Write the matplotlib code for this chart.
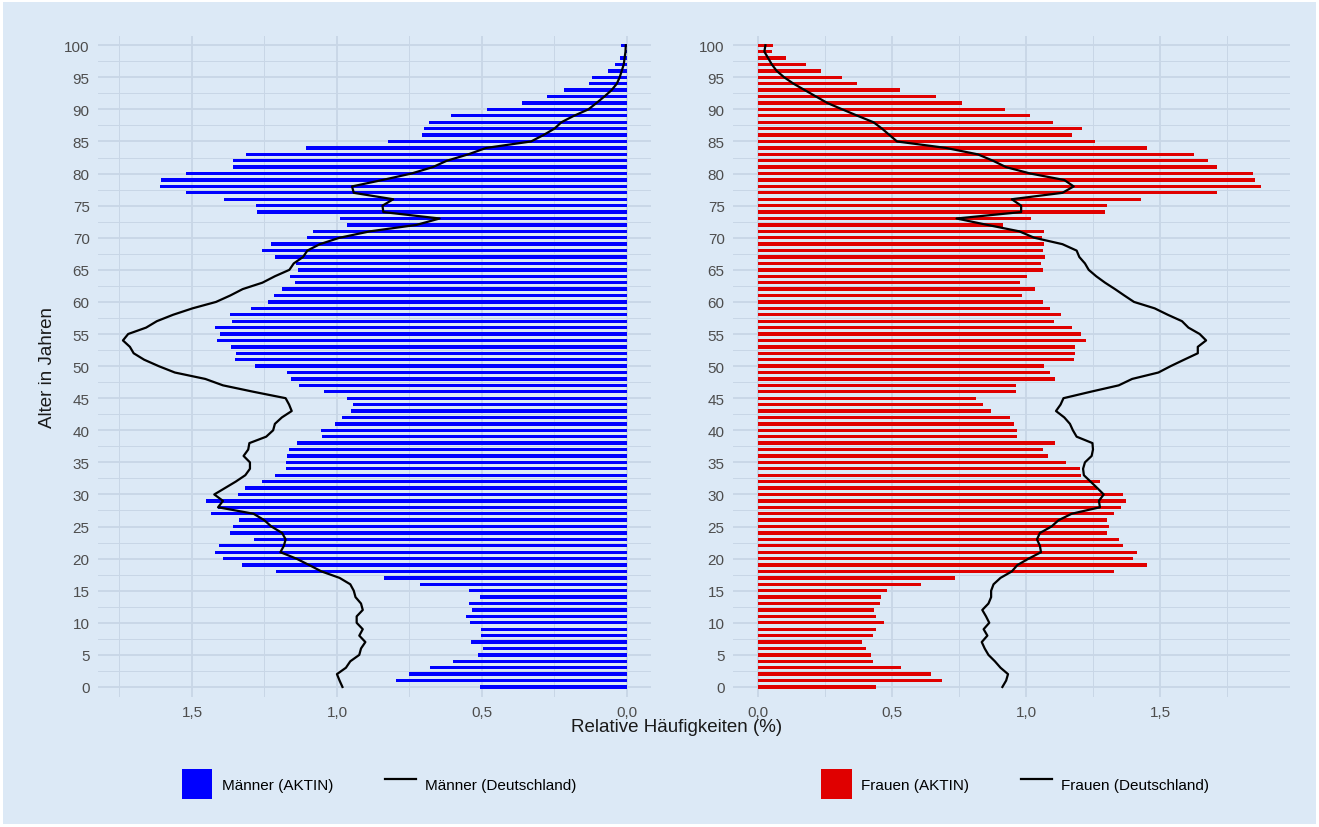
import numpy as np
import matplotlib
matplotlib.use("Agg")
import matplotlib.pyplot as plt
from matplotlib.patches import Patch
from matplotlib.lines import Line2D

plt.rcParams['font.family'] = ['Liberation Sans', 'DejaVu Sans']

ages = list(range(0, 101))

# relative frequencies (%) by age 0..100
maenner_aktin = [
    0.506, 0.798, 0.752, 0.680, 0.599, 0.514, 0.498, 0.537, 0.502, 0.502,
    0.540, 0.556, 0.535, 0.543, 0.506, 0.546, 0.715, 0.838, 1.210, 1.328,
    1.393, 1.422, 1.406, 1.286, 1.368, 1.360, 1.337, 1.436, 1.410, 1.451,
    1.340, 1.316, 1.260, 1.215, 1.177, 1.175, 1.172, 1.165, 1.138, 1.051,
    1.054, 1.007, 0.984, 0.953, 0.944, 0.964, 1.044, 1.130, 1.157, 1.173,
    1.284, 1.353, 1.347, 1.364, 1.415, 1.404, 1.422, 1.362, 1.368, 1.296,
    1.238, 1.216, 1.189, 1.143, 1.163, 1.136, 1.140, 1.212, 1.258, 1.226,
    1.102, 1.084, 0.967, 0.988, 1.275, 1.278, 1.390, 1.520, 1.609, 1.607,
    1.520, 1.360, 1.360, 1.315, 1.107, 0.823, 0.705, 0.699, 0.683, 0.605,
    0.484, 0.362, 0.277, 0.217, 0.131, 0.121, 0.065, 0.041, 0.025, 0.008,
    0.020]

maenner_de = [
    0.981, 0.991, 1.000, 0.969, 0.954, 0.923, 0.917, 0.902, 0.923, 0.911,
    0.932, 0.932, 0.911, 0.917, 0.936, 0.942, 0.954, 0.991, 1.053, 1.096,
    1.140, 1.195, 1.183, 1.177, 1.189, 1.226, 1.251, 1.288, 1.410, 1.393,
    1.423, 1.386, 1.349, 1.316, 1.300, 1.300, 1.322, 1.306, 1.302, 1.244,
    1.220, 1.214, 1.190, 1.156, 1.165, 1.177, 1.288, 1.393, 1.454, 1.559,
    1.615, 1.665, 1.701, 1.714, 1.738, 1.720, 1.658, 1.621, 1.565, 1.498,
    1.417, 1.368, 1.325, 1.257, 1.214, 1.164, 1.149, 1.117, 1.102, 1.059,
    0.991, 0.886, 0.726, 0.646, 0.840, 0.843, 0.806, 0.942, 0.948, 0.843,
    0.744, 0.670, 0.621, 0.547, 0.485, 0.331, 0.288, 0.250, 0.226, 0.183,
    0.133, 0.105, 0.078, 0.053, 0.035, 0.025, 0.018, 0.011, 0.008, 0.005,
    0.004]

frauen_aktin = [
    0.439, 0.686, 0.647, 0.534, 0.428, 0.422, 0.403, 0.388, 0.431, 0.442,
    0.471, 0.440, 0.433, 0.456, 0.460, 0.481, 0.607, 0.736, 1.327, 1.450,
    1.398, 1.415, 1.363, 1.348, 1.304, 1.311, 1.302, 1.327, 1.354, 1.374,
    1.362, 1.265, 1.275, 1.205, 1.200, 1.150, 1.083, 1.062, 1.109, 0.966,
    0.966, 0.955, 0.941, 0.871, 0.840, 0.812, 0.962, 0.961, 1.109, 1.091,
    1.067, 1.181, 1.182, 1.184, 1.223, 1.206, 1.173, 1.104, 1.130, 1.090,
    1.062, 0.985, 1.035, 0.976, 1.003, 1.062, 1.057, 1.070, 1.063, 1.069,
    1.060, 1.066, 0.916, 1.020, 1.293, 1.302, 1.429, 1.711, 1.878, 1.853,
    1.846, 1.711, 1.679, 1.628, 1.450, 1.259, 1.171, 1.209, 1.100, 1.015,
    0.920, 0.760, 0.663, 0.530, 0.370, 0.313, 0.236, 0.178, 0.105, 0.052,
    0.056]

frauen_de = [
    0.912, 0.926, 0.933, 0.905, 0.884, 0.860, 0.846, 0.835, 0.856, 0.842,
    0.863, 0.851, 0.837, 0.860, 0.870, 0.870, 0.879, 0.905, 0.947, 0.968,
    1.010, 1.056, 1.052, 1.041, 1.052, 1.095, 1.122, 1.171, 1.276, 1.272,
    1.290, 1.266, 1.241, 1.216, 1.213, 1.220, 1.245, 1.250, 1.248, 1.189,
    1.175, 1.164, 1.143, 1.112, 1.129, 1.140, 1.241, 1.346, 1.396, 1.494,
    1.540, 1.590, 1.641, 1.641, 1.672, 1.648, 1.606, 1.582, 1.529, 1.480,
    1.403, 1.367, 1.332, 1.295, 1.262, 1.234, 1.220, 1.199, 1.189, 1.136,
    1.031, 0.975, 0.856, 0.741, 0.982, 0.982, 0.947, 1.136, 1.178, 1.143,
    1.017, 0.926, 0.877, 0.820, 0.701, 0.519, 0.491, 0.463, 0.431, 0.372,
    0.315, 0.259, 0.217, 0.175, 0.133, 0.098, 0.070, 0.052, 0.038, 0.024,
    0.028]

x_ticks = [0.0, 0.5, 1.0, 1.5]
x_ticklabels = ["0,0", "0,5", "1,0", "1,5"]
y_ticks = list(range(0, 101, 5))

bg = "#dce9f6"
grid_col = "#c8d6e6"
blue = "#0000ff"
red = "#e00000"

fig = plt.figure(figsize=(13.19, 8.28), dpi=100)
fig.patch.set_facecolor(bg)
fig.patch.set_edgecolor("white")
fig.patch.set_linewidth(4)

ax1 = fig.add_axes([98 / 1319, 1 - 697.6 / 828, 553 / 1319, 661 / 828])
ax2 = fig.add_axes([733 / 1319, 1 - 697.6 / 828, 557 / 1319, 661 / 828])


def style(ax):
    ax.set_facecolor(bg)
    for s in ax.spines.values():
        s.set_visible(False)
    ax.set_yticks(y_ticks)
    ax.set_yticks(np.arange(2.5, 100, 5), minor=True)
    ax.set_xticks(x_ticks)
    ax.set_xticks([0.25, 0.75, 1.25, 1.75], minor=True)
    ax.set_xticklabels(x_ticklabels)
    ax.grid(True, which="major", color=grid_col, linewidth=1.3)
    ax.grid(True, which="minor", color=grid_col, linewidth=0.7)
    ax.set_axisbelow(True)
    ax.tick_params(which="both", length=0, labelsize=11, labelcolor="#4d4d4d", pad=6)
    ax.set_ylim(-1.5, 101.5)


style(ax1)
style(ax2)

ax1.barh(ages, maenner_aktin, height=0.52, color=blue)
ax1.plot(maenner_de, ages, color="black", linewidth=1.6)
ax1.set_xlim(1.824, -0.083)
ax1.set_ylabel("Alter in Jahren", fontsize=13.5, color="#1a1a1a", labelpad=6)

ax2.barh(ages, frauen_aktin, height=0.52, color=red)
ax2.plot(frauen_de, ages, color="black", linewidth=1.6)
ax2.set_xlim(-0.093, 1.985)

fig.text(677 / 1319, 1 - 728 / 828, "Relative Häufigkeiten (%)", ha="center", va="center",
         fontsize=13.5, color="#1a1a1a")

leg_kw = dict(frameon=False, ncol=2, fontsize=11, handlelength=2.0, handleheight=2.6,
              columnspacing=3.4, handletextpad=0.6, loc="center")
fig.legend(handles=[Patch(facecolor=blue), Line2D([], [], color="black", linewidth=1.6)],
           labels=["Männer (AKTIN)", "Männer (Deutschland)"],
           bbox_to_anchor=(379 / 1319, 1 - 785 / 828), **leg_kw)
fig.legend(handles=[Patch(facecolor=red), Line2D([], [], color="black", linewidth=1.6)],
           labels=["Frauen (AKTIN)", "Frauen (Deutschland)"],
           bbox_to_anchor=(1015 / 1319, 1 - 785 / 828), **leg_kw)

fig.savefig("out.png", dpi=100, facecolor=fig.get_facecolor(), edgecolor=fig.get_edgecolor())
